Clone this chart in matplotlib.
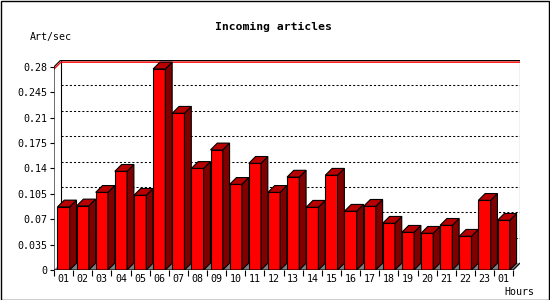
import matplotlib
matplotlib.use("Agg")
import matplotlib.pyplot as plt
from matplotlib.patches import Polygon, Rectangle

hours = ["01", "02", "03", "04", "05", "06", "07", "08", "09", "10", "11", "12",
         "13", "14", "15", "16", "17", "18", "19", "20", "21", "22", "23", "01"]
values = [0.0869, 0.0883, 0.107, 0.136, 0.103, 0.277, 0.216, 0.140, 0.1655, 0.118,
          0.147, 0.107, 0.128, 0.0865, 0.1306, 0.081, 0.0878, 0.0644, 0.052, 0.0506,
          0.0616, 0.0465, 0.096, 0.0685]
yticks = [0, 0.035, 0.07, 0.105, 0.14, 0.175, 0.21, 0.245, 0.28]
ytick_labels = ["0", "0.035", "0.07", "0.105", "0.14", "0.175", "0.21", "0.245", "0.28"]
title = "Incoming articles"
ylabel = "Art/sec"
xlabel = "Hours"

W, H = 550, 300
fig = plt.figure(figsize=(W / 100, H / 100), dpi=100)
fig.patch.set_facecolor("white")
font = "DejaVu Sans Mono"
LW = 0.8

ax_l, ax_r, ax_t, ax_b = 54, 520, 60, 270
ax = fig.add_axes([ax_l / W, (H - ax_b) / H, (ax_r - ax_l) / W, (ax_b - ax_t) / H])
ax.set_facecolor("white")
for s in ax.spines.values():
    s.set_visible(False)

n = len(values)
ymax = yticks[-1]
depth_px = 6.8
px_per_y = (ax_b - ax_t - depth_px) / ymax
dy = depth_px / px_per_y
px_per_x = (ax_r - ax_l - depth_px) / n
dx = depth_px / px_per_x
x0, x1 = -0.5, n - 0.5
ax.set_xlim(x0, x1 + dx)
ax.set_ylim(0, ymax + dy)

# floor
ax.add_patch(Polygon([(x0, 0), (x1, 0), (x1 + dx, dy), (x0 + dx, dy)],
                     closed=True, facecolor="#808080", edgecolor="none", zorder=1))
# back gridlines (dotted)
for t in yticks[1:-1]:
    ax.plot([x0 + dx, x1 + dx], [t + dy, t + dy], color="black", lw=0.75,
            linestyle=(0, (2.0, 2.0)), zorder=1)
# back frame
ax.plot([x0 + dx, x1 + dx], [ymax + dy, ymax + dy], color="black", lw=1.0, zorder=1)
ax.plot([x0 + dx, x0 + dx], [dy, ymax + dy], color="black", lw=LW, zorder=1)
ax.plot([x1 + dx, x1 + dx], [dy, ymax + dy], color="black", lw=LW, zorder=1)
# max line (red)
vmax = max(values)
ax.plot([x0, x0 + dx, x1 + dx], [vmax, vmax + dy, vmax + dy], color="red", lw=1.0, zorder=1)

# bars
bw = 0.32
for i, v in enumerate(values):
    l, r = i - bw, i + bw
    ax.add_patch(Polygon([(l, 0), (r, 0), (r, v), (l, v)], closed=True,
                         facecolor="#ff0000", edgecolor="black", lw=LW, zorder=3))
    ax.add_patch(Polygon([(r, 0), (r + dx, dy), (r + dx, v + dy), (r, v)], closed=True,
                         facecolor="#800000", edgecolor="black", lw=LW, zorder=3))
    ax.add_patch(Polygon([(l, v), (r, v), (r + dx, v + dy), (l + dx, v + dy)], closed=True,
                         facecolor="#b80000", edgecolor="black", lw=LW, zorder=3))

# front axes
ax.plot([x0, x0, x0 + dx], [0, ymax, ymax + dy], color="black", lw=LW, zorder=4)
ax.plot([x0, x1, x1 + dx], [0, 0, dy], color="black", lw=LW, zorder=4)

# ticks
ax.set_yticks(yticks)
ax.set_yticklabels(ytick_labels, fontfamily=font, fontsize=7.2)
ax.tick_params(axis="y", length=3, width=LW, pad=2, direction="out")
ax.set_xticks(range(n))
ax.set_xticklabels(hours, fontfamily=font, fontsize=7.2)
ax.set_xticks([x0 + k for k in range(n + 1)], minor=True)
ax.tick_params(axis="x", which="major", length=0, pad=3)
ax.tick_params(axis="x", which="minor", length=4, width=LW, direction="out")

fig.text(273.5 / W, 1 - 27 / H, title, fontfamily=font, fontsize=8.2,
         fontweight="bold", ha="center", va="center")
fig.text(51 / W, 1 - 37 / H, ylabel, fontfamily=font, fontsize=7.2, ha="center", va="center")
fig.text(519 / W, 1 - 292 / H, xlabel, fontfamily=font, fontsize=7.2, ha="center", va="center")

fig.add_artist(Rectangle((0.5 / W, 0.5 / H), 1 - 1.5 / W, 1 - 1.5 / H,
                         transform=fig.transFigure, fill=False, edgecolor="black", lw=1))

fig.savefig("out.png", dpi=100)
